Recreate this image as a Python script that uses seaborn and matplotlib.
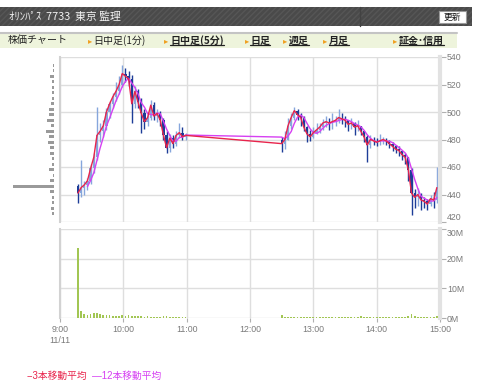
import numpy as np
import pandas as pd
import matplotlib
matplotlib.use("Agg")
import matplotlib.pyplot as plt
import seaborn as sns
from matplotlib.patches import Rectangle
from matplotlib.lines import Line2D

# ---------------- data ----------------
times_am = ["9:17", "9:20", "9:23", "9:26", "9:29", "9:32", "9:35", "9:38", "9:41", "9:44",
            "9:47", "9:50", "9:53", "9:56", "9:59", "10:02", "10:05", "10:08", "10:11", "10:14",
            "10:17", "10:20", "10:23", "10:26", "10:29", "10:32", "10:35", "10:38", "10:41", "10:44",
            "10:47", "10:50", "10:53", "10:56", "10:59"]
open_am = [446, 441, 445, 447, 450, 459, 467, 483, 486, 490, 500, 506, 511, 515, 520, 528, 526, 524, 506, 515,
           507, 499, 493, 496, 505, 497, 499, 494, 483, 474, 481, 477, 483, 485, 482]
high_am = [448, 465, 450, 452, 462, 470, 504, 492, 494, 503, 508, 514, 522, 526, 534, 532, 530, 527, 519, 517,
           510, 502, 500, 509, 507, 502, 501, 496, 486, 484, 483, 486, 492, 489, 485]
low_am = [434, 438, 440, 443, 448, 456, 465, 478, 482, 487, 496, 503, 508, 513, 518, 522, 519, 492, 503, 503,
          485, 488, 490, 494, 494, 493, 490, 480, 470, 471, 474, 475, 481, 480, 480]
close_am = [441, 445, 447, 450, 459, 467, 483, 486, 490, 500, 506, 511, 515, 520, 528, 526, 524, 506, 515, 507,
            499, 493, 496, 505, 497, 499, 494, 483, 474, 481, 477, 483, 485, 482, 483]
vol_am = [23.5, 2.2, 1.3, 1.0, 1.2, 1.6, 1.8, 1.3, 1.0, 1.1, 0.9, 0.8, 0.8, 0.8, 0.9, 0.8, 0.9, 0.7, 0.6, 0.7,
          0.6, 0.5, 0.6, 0.5, 0.5, 0.5, 0.5, 0.6, 0.6, 0.5, 0.5, 0.5, 0.4, 0.4, 0.4]

times_pm = ["12:30", "12:33", "12:36", "12:39", "12:42", "12:45", "12:48", "12:51", "12:54", "12:57",
            "13:00", "13:03", "13:06", "13:09", "13:12", "13:15", "13:18", "13:21", "13:24", "13:27",
            "13:30", "13:33", "13:36", "13:39", "13:42", "13:45", "13:48", "13:51", "13:54", "13:57",
            "14:00", "14:03", "14:06", "14:09", "14:12", "14:15", "14:18", "14:21", "14:24", "14:27",
            "14:30", "14:33", "14:36", "14:39", "14:42", "14:45", "14:48", "14:51", "14:54", "14:57"]
open_pm = [480, 477, 480, 490, 496, 501, 498, 496, 489, 484, 482, 485, 487, 489, 492, 493, 492, 493, 494, 496,
           495, 494, 491, 492, 489, 490, 486, 482, 476, 480, 479, 478, 479, 480, 479, 477, 475, 473, 472, 469,
           467, 458, 441, 438, 440, 436, 435, 433, 437, 436]
high_pm = [482, 486, 496, 499, 504, 502, 499, 497, 490, 487, 489, 492, 492, 495, 497, 496, 499, 497, 502, 499,
           497, 494, 496, 493, 494, 490, 486, 483, 483, 482, 481, 484, 482, 481, 480, 478, 476, 475, 472, 470,
           467, 459, 444, 445, 441, 438, 437, 440, 442, 460]
low_pm = [471, 473, 480, 488, 494, 494, 490, 486, 478, 479, 481, 484, 485, 487, 489, 487, 488, 490, 492, 491,
          489, 486, 488, 483, 486, 483, 478, 464, 474, 476, 475, 476, 477, 476, 474, 472, 470, 468, 465, 462,
          450, 425, 430, 432, 429, 430, 429, 432, 430, 434]
close_pm = [477, 480, 490, 496, 501, 498, 496, 489, 484, 482, 485, 487, 489, 492, 493, 492, 493, 494, 496, 495,
            494, 491, 492, 489, 490, 486, 482, 476, 480, 479, 478, 479, 480, 479, 477, 475, 473, 472, 469, 467,
            458, 441, 438, 440, 436, 435, 433, 437, 436, 445]
vol_pm = [1.1, 0.5, 0.5, 0.5, 0.5, 0.4, 0.4, 0.4, 0.4, 0.4, 0.4, 0.4, 0.4, 0.4, 0.4, 0.4, 0.4, 0.4, 0.4, 0.4,
          0.4, 0.4, 0.4, 0.4, 0.4, 0.6, 0.4, 0.5, 0.5, 0.4, 0.4, 0.4, 0.4, 0.4, 0.4, 0.4, 0.4, 0.4, 0.5, 0.5,
          0.7, 1.3, 0.6, 0.5, 0.4, 0.4, 0.4, 0.5, 0.5, 0.7]

# volume-at-price profile (left side), in millions of shares
profile_prices = [426, 430, 434, 438, 442, 446, 450, 454, 458, 462, 466, 470, 474, 478,
                  482, 486, 490, 494, 498, 502, 506, 510, 514, 518, 522, 526, 530, 534]
profile_vol = [1.0, 1.6, 1.2, 1.2, 2.6, 24.5, 2.6, 0.6, 3.2, 1.4, 1.4, 2.6, 2.4, 3.6,
               3.2, 4.6, 2.0, 4.0, 3.2, 3.2, 1.5, 1.2, 1.2, 0.9, 0.9, 2.2, 0.6, 0.6]

price_ticks = [420, 440, 460, 480, 500, 520, 540]
vol_ticks = [0, 10, 20, 30]
vol_tick_labels = ["0M", "10M", "20M", "30M"]
hour_labels = ["9:00\n11/11", "10:00", "11:00", "12:00", "13:00", "14:00", "15:00"]

header_title = "ｵﾘﾝﾊﾟｽ  7733  東京 監理"
button_label = "更新"
nav_items = ["株価チャート", "日中足(1分)", "日中足(5分)", "日足", "週足", "月足", "証金･信用"]
legend_short = "--3本移動平均"
legend_long = "—12本移動平均"

# ---------------- style ----------------
sns.set_theme(style="white")
plt.rcParams['font.family'] = ['Liberation Sans', 'Noto Sans CJK JP', 'DejaVu Sans']
CJK = ['Noto Sans CJK JP', 'DejaVu Sans']

UP = "#86a6dc"
DOWN = "#1d3d98"
RED = "#e8244c"
MAG = "#d640f2"
VOLC = "#a2c653"
GRID = "#dedede"
TXT = "#7a7a7a"

W, H = 480, 385
fig = plt.figure(figsize=(4.8, 3.85), dpi=100)


def fx(px):
    return px / W


def fy(py):
    return 1 - py / H


def to_min(t):
    h, m = t.split(":")
    return (int(h) - 9) * 60 + int(m)


df = pd.DataFrame({
    "time": times_am + times_pm,
    "open": open_am + open_pm,
    "high": high_am + high_pm,
    "low": low_am + low_pm,
    "close": close_am + close_pm,
    "volume": vol_am + vol_pm,
})
df["t"] = df["time"].map(to_min)
# bars here are 3-minute bars, so the short (3 x 1-min) average is the bar close
# and the long (12 x 1-min) average spans 4 bars
df["ma_short"] = df["close"].rolling(1).mean()
df["ma_long"] = df["close"].rolling(4).mean()

# ---------------- axes ----------------
ax = fig.add_axes([fx(60), fy(222), fx(380), (222 - 57) / H])
axv = fig.add_axes([fx(60), fy(318), fx(380), (318 - 229) / H], sharex=ax)
axp = fig.add_axes([fx(12), fy(222), fx(42), (222 - 57) / H], sharey=ax)

up = df["close"] >= df["open"]
colors = np.where(up, UP, DOWN)
ax.vlines(df["t"], df["low"], df["high"], color=colors, lw=1.0, zorder=2)
body = (df["close"] - df["open"]).abs().clip(lower=0.5)
ax.bar(df["t"], body, bottom=df[["open", "close"]].min(axis=1), width=2.2,
       color=colors, lw=0, zorder=2)

sns.lineplot(data=df, x="t", y="ma_long", ax=ax, color=MAG, lw=1.0, zorder=3)
sns.lineplot(data=df, x="t", y="ma_short", ax=ax, color=RED, lw=1.0, zorder=4)

axv.bar(df["t"], df["volume"], width=1.6, color=VOLC, lw=0, zorder=2)

axp.barh(profile_prices, profile_vol, height=2.5, color="#9a9a9a", lw=0)
axp.set_xlim(25.1, 0)
axp.axis("off")

for a in (ax, axv):
    a.set_xlim(0, 360)
    a.grid(True, color=GRID, lw=1)
    a.set_axisbelow(True)
    a.set_xlabel("")
    a.set_ylabel("")
    a.spines["top"].set_visible(False)
    a.spines["bottom"].set_visible(False)
    a.spines["left"].set_color("#d2d2d2")
    a.spines["left"].set_linewidth(1.5)
    a.spines["right"].set_color("#e2e2e2")
    a.spines["right"].set_linewidth(3)
    a.yaxis.tick_right()
    a.tick_params(axis="y", right=True, left=False, length=4, width=0.8, color="#b0b0b0",
                  labelsize=6.3, labelcolor=TXT, pad=1)

ax.set_ylim(420, 540)
ax.set_yticks(price_ticks)
ax.set_yticklabels([str(v) for v in price_ticks])
ax.tick_params(axis="x", bottom=False, labelbottom=False)
ax.get_yticklabels()[0].set_va("bottom")

axv.set_ylim(0, 30)
axv.set_yticks(vol_ticks)
axv.set_yticklabels(vol_tick_labels)
axv.get_yticklabels()[-1].set_va("top")
axv.set_xticks(range(0, 361, 60))
axv.set_xticklabels(hour_labels)
axv.tick_params(axis="x", bottom=True, length=3, width=0.8, color="#b0b0b0",
                labelsize=6.3, labelcolor=TXT, pad=2)
for lbl in axv.get_xticklabels():
    lbl.set_linespacing(1.3)

# ---------------- header ----------------
fig.add_artist(Rectangle((fx(0), fy(26)), fx(472), 19 / H, transform=fig.transFigure,
                         facecolor="#4a4a4a", edgecolor="#565656", hatch="//////", lw=0))
fig.add_artist(Line2D([fx(360), fx(360)], [fy(26), fy(7)], transform=fig.transFigure,
                      color="#424242", lw=1))
fig.text(fx(9), fy(16.5), header_title, color="#f2f2f2", fontsize=7.8,
         va="center", ha="left", family=CJK)
fig.add_artist(Rectangle((fx(439), fy(23)), fx(27), 12 / H, transform=fig.transFigure,
                         facecolor="white", edgecolor="#9a9a9a", lw=0.8))
fig.text(fx(452.5), fy(17), button_label, color="#111111", fontsize=6.3,
         va="center", ha="center", family=CJK)

# ---------------- nav bar ----------------
fig.add_artist(Rectangle((fx(0), fy(48)), fx(457), 15 / H, transform=fig.transFigure,
                         facecolor="#eef4dc", lw=0))
fig.add_artist(Line2D([0, fx(457)], [fy(32.5), fy(32.5)], transform=fig.transFigure,
                      color="#c4c4c4", lw=1.5))
nav_x = [8, 93, 170, 250, 289, 329, 399]
arrow_x = [None, 88, 164, 245, 283, 323, 393]
nav_bold = [False, False, True, True, True, True, True]
underline_texts = []
for lab, x, axx, b in zip(nav_items, nav_x, arrow_x, nav_bold):
    t = fig.text(fx(x), fy(40.5), lab, color="#222222", fontsize=7.2,
                 fontweight="bold" if b else "normal", va="center", ha="left", family=CJK)
    if axx is not None:
        fig.text(fx(axx), fy(40.5), "▸", color="#f0a020", fontsize=6, va="center",
                 ha="left", family=['DejaVu Sans'])
    if b:
        underline_texts.append(t)

# ---------------- legend ----------------
fig.text(fx(27), fy(376), legend_short, color=RED, fontsize=7, va="center", ha="left")
fig.text(fx(92), fy(376), legend_long, color=MAG, fontsize=7, va="center", ha="left")

fig.canvas.draw()
inv = fig.transFigure.inverted()
for t in underline_texts:
    bb = t.get_window_extent()
    (x0, y0), (x1, _) = inv.transform([[bb.x0, bb.y0], [bb.x1, bb.y0]])
    fig.add_artist(Line2D([x0, x1], [y0 + 0.5 / H, y0 + 0.5 / H], transform=fig.transFigure,
                          color="#222222", lw=0.9))

fig.savefig("out.png", dpi=100)
